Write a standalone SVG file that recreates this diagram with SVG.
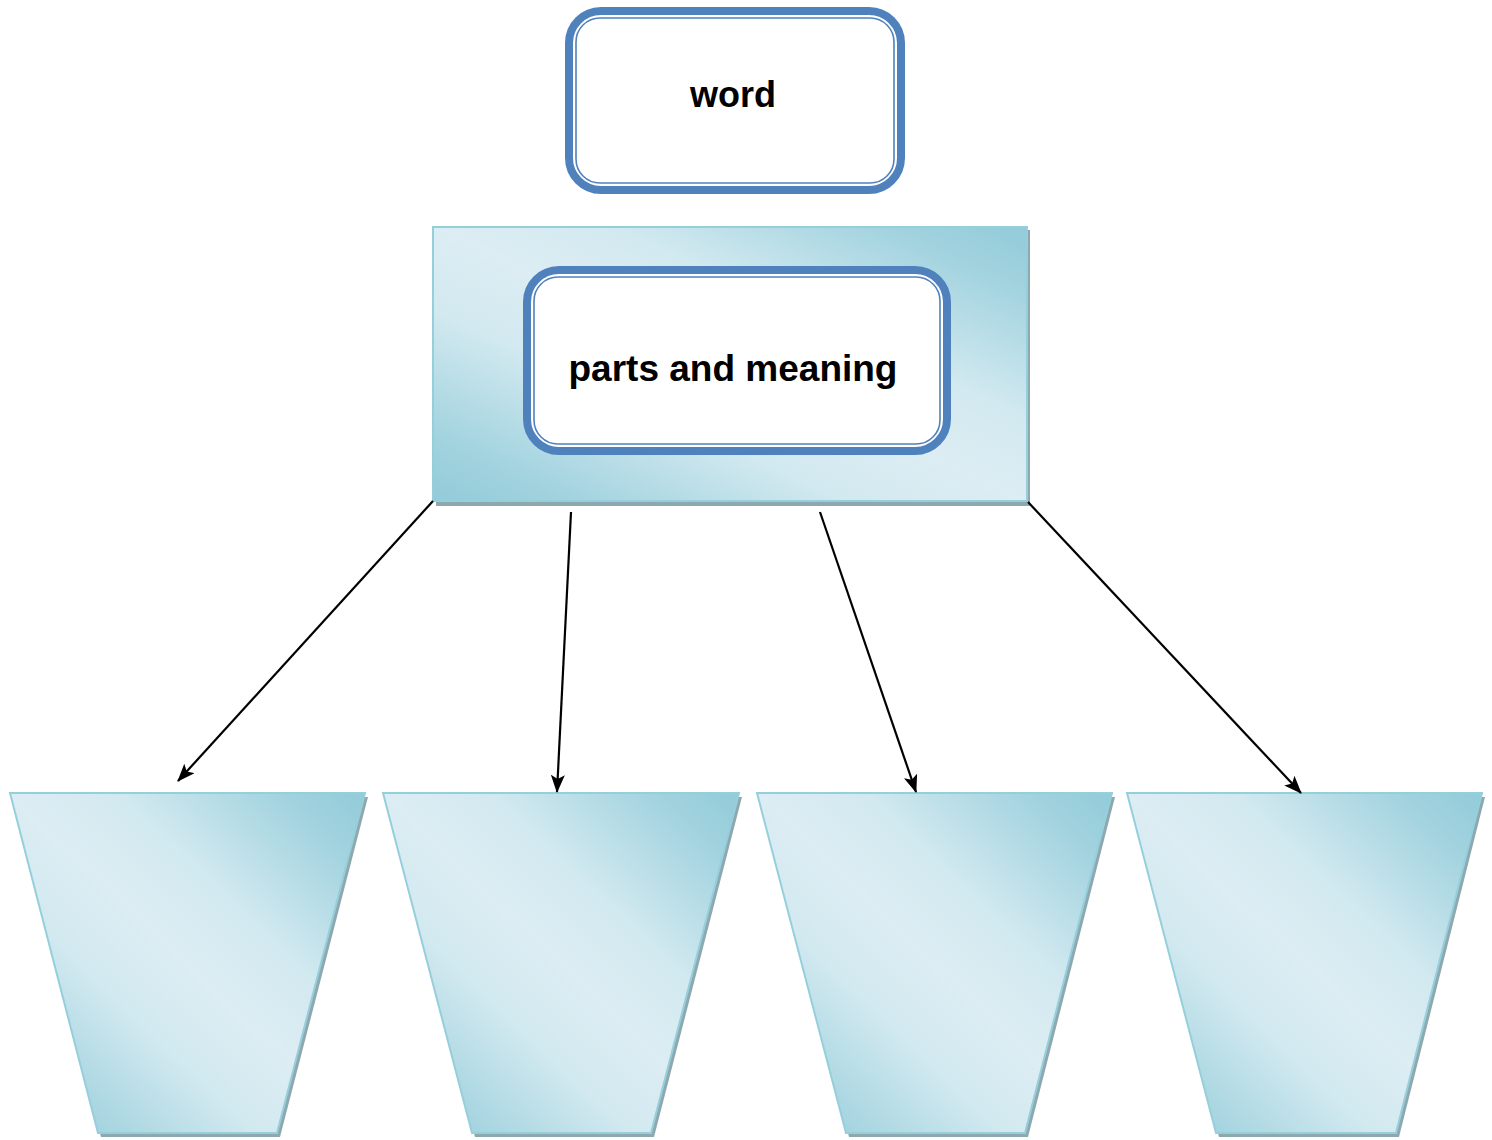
<svg xmlns="http://www.w3.org/2000/svg" width="1492" height="1140" viewBox="0 0 1492 1140">
<style>
.lbl{font-family:"Liberation Sans",Arial,sans-serif;font-weight:bold;fill:#000;text-anchor:middle}
.outer{fill:#fff;stroke:#4f81bd;stroke-width:8}
.inner{fill:none;stroke:#4f81bd;stroke-width:1.6}
.panel{fill:url(#g);stroke:#96cfdc;stroke-width:2}
.shadow{fill:#8ea8b0}
.conn{stroke:#000;stroke-width:2.2;fill:none;marker-end:url(#ah)}
</style>
<defs>
<linearGradient id="g" x1="1" y1="0" x2="0" y2="1">
<stop offset="0" stop-color="#92cbd9"/>
<stop offset="0.12" stop-color="#a2d3df"/>
<stop offset="0.35" stop-color="#d2e9f0"/>
<stop offset="0.5" stop-color="#dcedf3"/>
<stop offset="0.65" stop-color="#d2e9f0"/>
<stop offset="0.88" stop-color="#a2d3df"/>
<stop offset="1" stop-color="#92cbd9"/>
</linearGradient>
<marker id="ah" viewBox="0 0 18 14" refX="17" refY="7" markerWidth="18" markerHeight="14" markerUnits="userSpaceOnUse" orient="auto">
<path d="M0,0 L18,7 L0,14 L4,7 Z" fill="#000"/>
</marker>
</defs>

<g id="node-word">
<rect class="outer" x="569" y="11" width="332" height="179" rx="32"/>
<rect class="inner" x="576" y="18" width="318" height="165" rx="24"/>
<text class="lbl" x="733" y="107" font-size="36">word</text>
</g>

<g id="node-parts">
<rect class="shadow" x="436" y="230" width="594" height="276"/>
<rect class="panel" x="433" y="227" width="594" height="274"/>
<rect class="outer" x="527" y="270" width="420" height="181" rx="32"/>
<rect class="inner" x="534" y="277" width="406" height="167" rx="24"/>
<text class="lbl" x="733" y="381" font-size="37">parts and meaning</text>
</g>

<g id="node-t1">
<polygon class="shadow" points="13,797 368,797 280,1137 101,1137"/>
<polygon class="panel" points="10,793 365,793 277,1133 98,1133"/>
</g>
<g id="node-t2">
<polygon class="shadow" points="386,797 742,797 654,1137 475,1137"/>
<polygon class="panel" points="383,793 739,793 651,1133 472,1133"/>
</g>
<g id="node-t3">
<polygon class="shadow" points="760,797 1115,797 1028,1137 849,1137"/>
<polygon class="panel" points="757,793 1112,793 1025,1133 846,1133"/>
</g>
<g id="node-t4">
<polygon class="shadow" points="1130,797 1485,797 1399,1137 1219,1137"/>
<polygon class="panel" points="1127,793 1482,793 1396,1133 1216,1133"/>
</g>

<g id="connectors">
<line class="conn" x1="433" y1="501" x2="178" y2="781"/>
<line class="conn" x1="571" y1="512" x2="557" y2="792"/>
<line class="conn" x1="820" y1="512" x2="916" y2="792"/>
<line class="conn" x1="1028" y1="502" x2="1301" y2="793"/>
</g>
</svg>
